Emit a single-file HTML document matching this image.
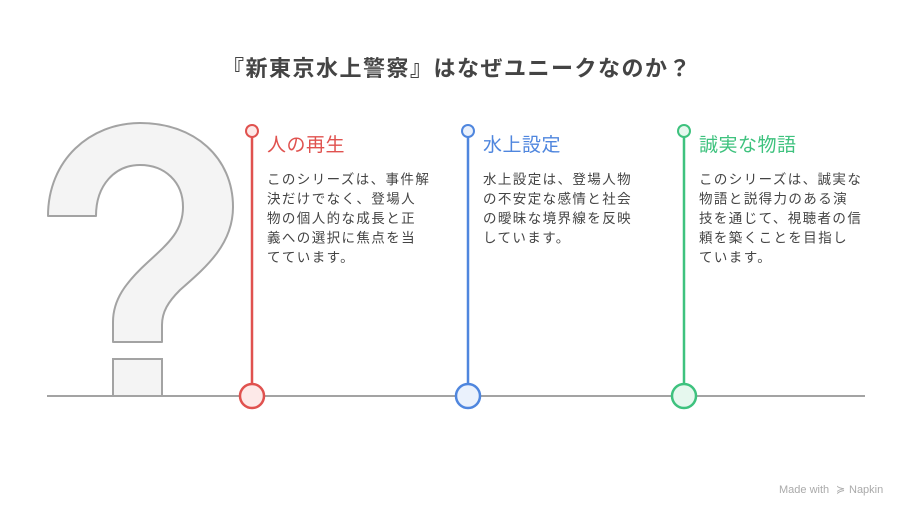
<!DOCTYPE html>
<html><head><meta charset="utf-8"><style>
html,body{margin:0;padding:0;background:#fff;}
svg text{font-family:"Liberation Sans","Noto Sans CJK JP",sans-serif;}
</style></head><body>
<svg width="912" height="516" viewBox="0 0 912 516" xmlns="http://www.w3.org/2000/svg">
<rect width="912" height="516" fill="#fff"/>
<text x="457" y="76" font-size="22" font-weight="bold" fill="#444" text-anchor="middle" letter-spacing="1.5">『新東京水上警察』はなぜユニークなのか？</text>
<path d="M48,216 C48,160 90,123 140,123 C195,123 233,158 233,207 C233,245 205,268 180,290 C168,302 162,312 162,325 L162,342 L113,342 L113,322 C113,300 125,283 148,262 C170,242 183,230 183,207 C183,182 165,165 140,165 C115,165 96,185 96,216 Z" fill="#f4f4f4" stroke="#a3a3a3" stroke-width="2" stroke-linejoin="round"/>
<path d="M113,396 L113,359 L162,359 L162,396" fill="#f4f4f4" stroke="#a3a3a3" stroke-width="2"/>
<line x1="47" y1="396" x2="865" y2="396" stroke="#a3a3a3" stroke-width="2"/>
<g stroke-width="2.5">
<line x1="252" y1="137" x2="252" y2="384" stroke="#e0524f"/>
<circle cx="252" cy="131" r="6" fill="#fde9e8" stroke="#e0524f" stroke-width="2"/>
<circle cx="252" cy="396" r="12" fill="#fde9e8" stroke="#e0524f"/>
<line x1="468" y1="137" x2="468" y2="384" stroke="#4f86de"/>
<circle cx="468" cy="131" r="6" fill="#eaf1fc" stroke="#4f86de" stroke-width="2"/>
<circle cx="468" cy="396" r="12" fill="#eaf1fc" stroke="#4f86de"/>
<line x1="684" y1="137" x2="684" y2="384" stroke="#3ec27e"/>
<circle cx="684" cy="131" r="6" fill="#e6f8ee" stroke="#3ec27e" stroke-width="2"/>
<circle cx="684" cy="396" r="12" fill="#e6f8ee" stroke="#3ec27e"/>
</g>
<text x="267" y="151" font-size="19" fill="#e0524f" letter-spacing="0.5">人の再生</text>
<text x="483" y="151" font-size="19" fill="#4f86de" letter-spacing="0.5">水上設定</text>
<text x="699" y="151" font-size="19" fill="#3ec27e" letter-spacing="0.5">誠実な物語</text>
<g font-size="13.5" fill="#444" letter-spacing="1.4">
<text x="267" y="184">このシリーズは、事件解</text>
<text x="267" y="203.5">決だけでなく、登場人</text>
<text x="267" y="223">物の個人的な成長と正</text>
<text x="267" y="242.5">義への選択に焦点を当</text>
<text x="267" y="262">てています。</text>
<text x="483" y="184">水上設定は、登場人物</text>
<text x="483" y="203.5">の不安定な感情と社会</text>
<text x="483" y="223">の曖昧な境界線を反映</text>
<text x="483" y="242.5">しています。</text>
<text x="699" y="184">このシリーズは、誠実な</text>
<text x="699" y="203.5">物語と説得力のある演</text>
<text x="699" y="223">技を通じて、視聴者の信</text>
<text x="699" y="242.5">頼を築くことを目指し</text>
<text x="699" y="262">ています。</text>
</g>
<text x="779" y="493" font-size="11" fill="#aaa">Made with</text>
<text x="836" y="493" font-size="11" fill="#aaa">≽</text>
<text x="849" y="493" font-size="11" fill="#aaa">Napkin</text>
</svg>
</body></html>
